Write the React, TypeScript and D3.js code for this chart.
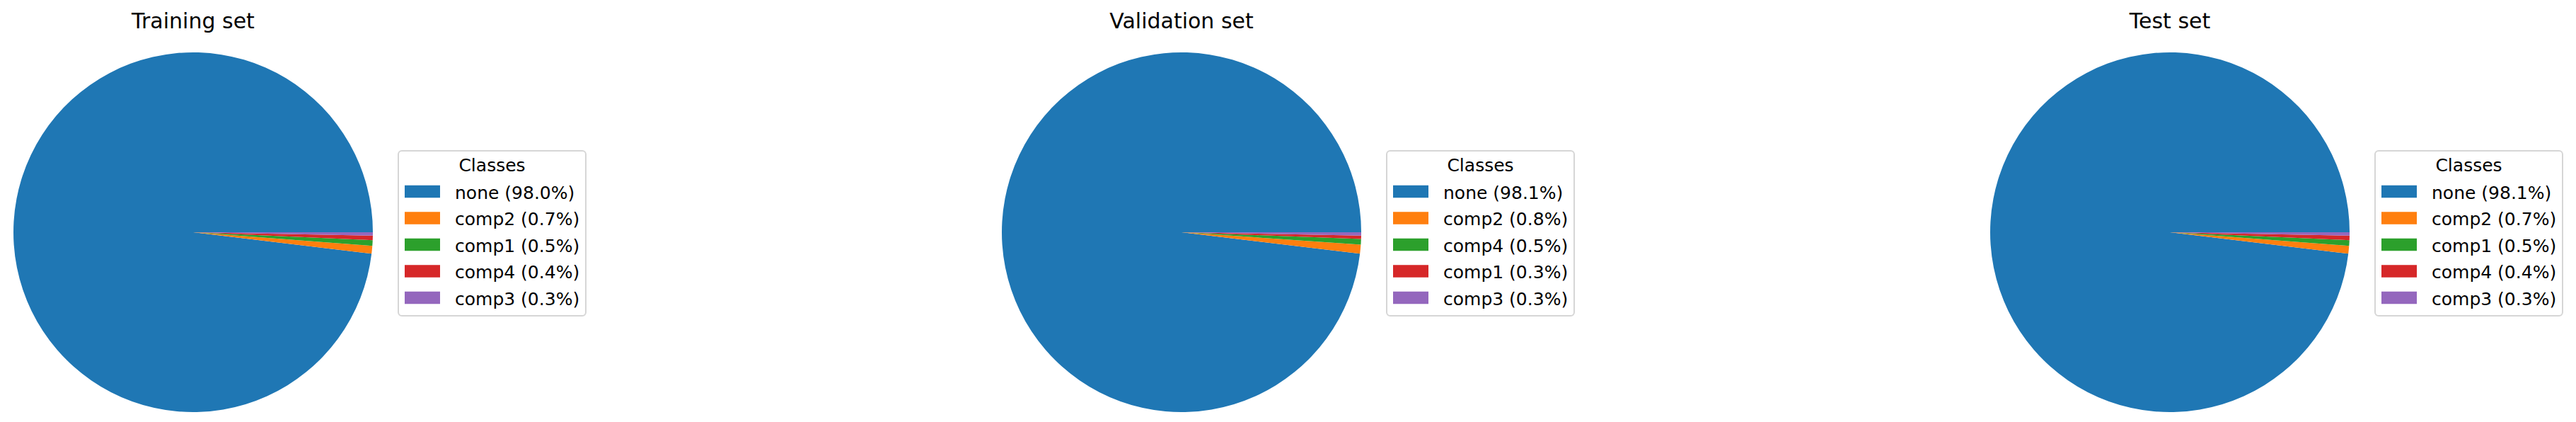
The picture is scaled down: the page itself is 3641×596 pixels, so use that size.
import React from "react";
import * as d3 from "d3";

const titles = ["Training set", "Validation set", "Test set"];
const trainLabels = ["none", "comp2", "comp1", "comp4", "comp3"];
const trainValues = [98.0, 0.7, 0.5, 0.4, 0.3];
const valLabels = ["none", "comp2", "comp4", "comp1", "comp3"];
const valValues = [98.1, 0.8, 0.5, 0.3, 0.3];
const testLabels = ["none", "comp2", "comp1", "comp4", "comp3"];
const testValues = [98.1, 0.7, 0.5, 0.4, 0.3];
const colors = ["#1f77b4", "#ff7f0e", "#2ca02c", "#d62728", "#9467bd"];

const W = 3641;
const H = 596;
const FONT = "DejaVu Sans, sans-serif";

const panels = [
  { title: titles[0], labels: trainLabels, values: trainValues },
  { title: titles[1], labels: valLabels, values: valValues },
  { title: titles[2], labels: testLabels, values: testValues },
];

const centerX = d3.scaleLinear().domain([0, 2]).range([273, 3067]);
const CY = 328;
const R = 254;

function Panel({ p, i }: { p: { title: string; labels: string[]; values: number[] }; i: number }) {
  const cx = centerX(i);
  const pie = d3
    .pie<number>()
    .sort(null)
    .startAngle(Math.PI / 2)
    .endAngle(Math.PI / 2 - 2 * Math.PI);
  const arcs = pie(p.values);
  const arc = d3.arc<d3.PieArcDatum<number>>().innerRadius(0).outerRadius(R);
  const lx = cx + 290;
  const ly = 213;
  const lw = 265;
  const lh = 233;
  const rowY = d3.scaleLinear().domain([0, 4]).range([ly + 57.5, ly + 207.5]);
  return (
    <g>
      <text x={cx} y={40} textAnchor="middle" fontFamily={FONT} fontSize={30} fill="#000">
        {p.title}
      </text>
      <g transform={`translate(${cx},${CY})`}>
        {arcs.map((a, k) => (
          <path key={k} d={arc(a) || ""} fill={colors[k]} />
        ))}
      </g>
      <rect x={lx} y={ly} width={lw} height={lh} rx={5} ry={5} fill="#fff" fillOpacity={0.8} stroke="#d6d6d6" strokeWidth={2} />
      <text x={lx + lw / 2} y={ly + 29} textAnchor="middle" fontFamily={FONT} fontSize={25} fill="#000">
        Classes
      </text>
      {p.labels.map((l, k) => (
        <g key={k}>
          <rect x={lx + 9} y={rowY(k) - 8.75} width={50} height={17.5} fill={colors[k]} />
          <text x={lx + 80} y={rowY(k) + 10} fontFamily={FONT} fontSize={25} fill="#000">
            {`${l} (${p.values[k].toFixed(1)}%)`}
          </text>
        </g>
      ))}
    </g>
  );
}

export default function App() {
  return (
    <svg width={W} height={H} style={{ position: "absolute", left: 0, top: 0, background: "#fff" }}>
      <rect x={0} y={0} width={W} height={H} fill="#fff" />
      {panels.map((p, i) => (
        <Panel key={i} p={p} i={i} />
      ))}
    </svg>
  );
}
